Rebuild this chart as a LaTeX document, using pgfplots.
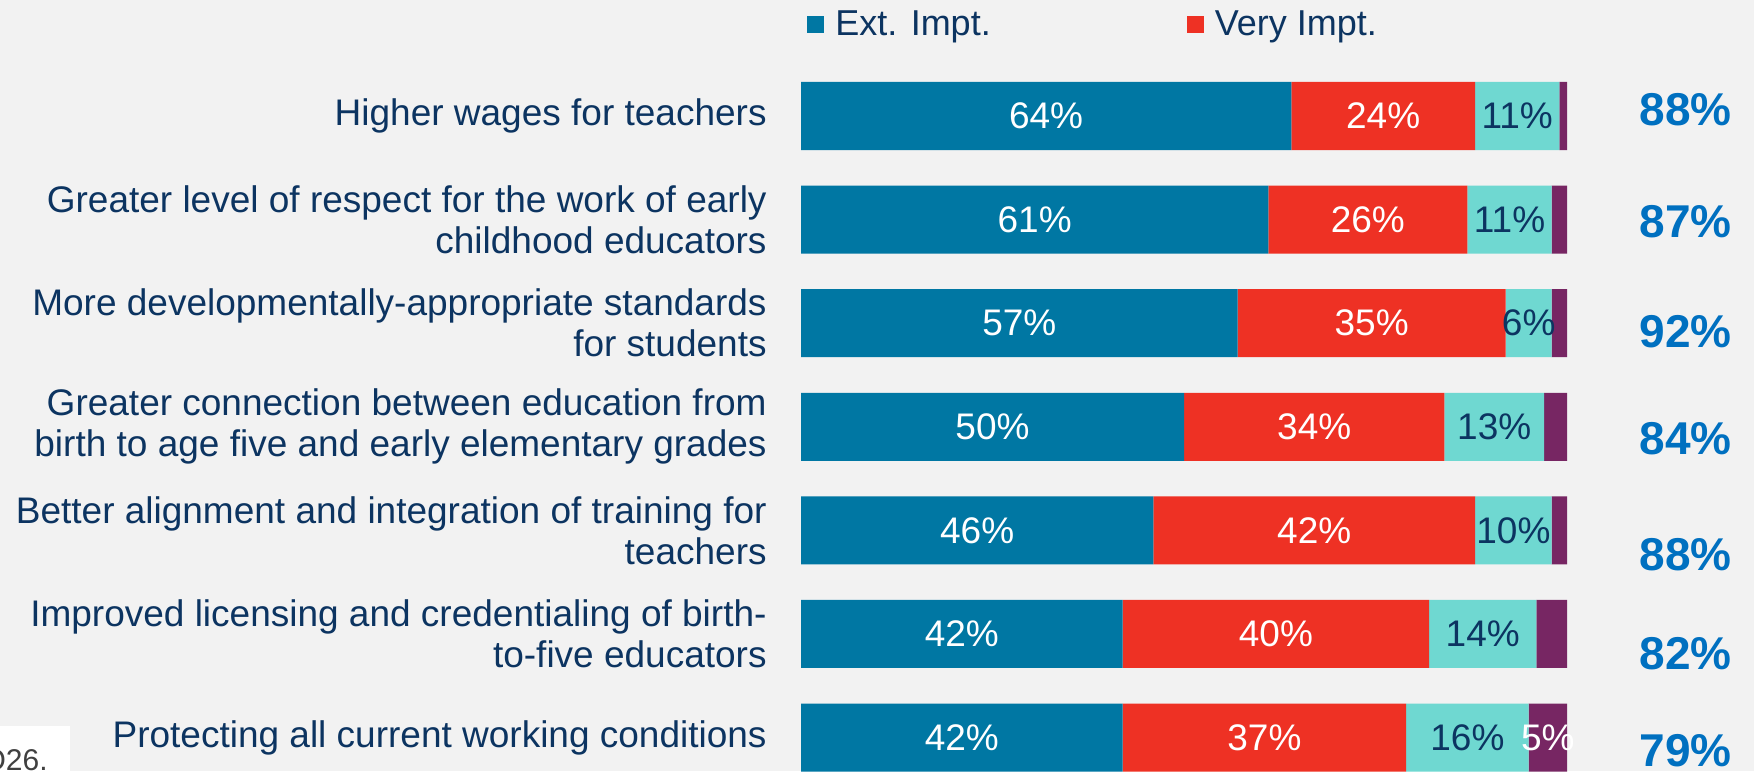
\documentclass[border=0pt]{standalone}
\usepackage{pgfplots}
\pgfplotsset{compat=1.18}
\usepackage{pgfplotstable}
\usepackage{fontspec}
\setmainfont{Liberation Sans}

\definecolor{bgc}{RGB}{242,242,242}
\definecolor{extc}{RGB}{0,119,163}
\definecolor{veryc}{RGB}{238,49,36}
\definecolor{somec}{RGB}{111,216,209}
\definecolor{notc}{RGB}{119,38,99}
\definecolor{navy}{RGB}{12,52,97}
\definecolor{totc}{RGB}{0,112,192}
\definecolor{qgray}{RGB}{64,64,64}

% share of answers per item (rows top to bottom)
\pgfplotstableread{
row ext very some not
1 64 24 11 1
2 61 26 11 2
3 57 35 6 2
4 50 34 13 3
5 46 42 10 2
6 42 40 14 4
7 42 37 16 5
}\ratings

% Ext. + Very Impt. totals, placed a little off the bar centres as in the original
\pgfplotstableread{
pos total
0.94 88
2.02 87
3.08 92
4.115 84
5.23 88
6.19 82
7.13 79
}\totals

\begin{document}
\begin{tikzpicture}
\useasboundingbox (0,0) rectangle (877pt,385.5pt);
\fill[bgc] (0,0) rectangle (877pt,385.5pt);
\begin{scope}
\clip (0,0) rectangle (877pt,385.5pt);
\pgfplotsset{
  frame/.style={
    at={(400.5pt,353.4pt)}, anchor=north west,
    scale only axis, width=383pt, height=362.6pt,
    xmin=0, xmax=100, ymin=0.5, ymax=7.5,
    y dir=reverse, clip=false,
    axis line style={draw=none}, tick style={draw=none},
    xtick=\empty,
    /pgf/number format/assume math mode=true,
  },
  % fill colour, label colour, column (labels already sit mid-segment)
  seg/.style n args={3}{fill=#1, draw=none,
    visualization depends on={\thisrow{#3} \as \segw},
    every node near coord/.append style={text=#2}},
}
\begin{axis}[
  frame,
  xbar stacked, bar width=34pt,
  ytick={1,...,7},
  yticklabels={
    Higher wages for teachers,
    {Greater level of respect for the work of early\\childhood educators},
    {More developmentally-appropriate standards\\for students},
    {Greater connection between education from\\birth to age five and early elementary grades},
    {Better alignment and integration of training for\\teachers},
    {Improved licensing and credentialing of birth-\\to-five educators},
    Protecting all current working conditions},
  yticklabel style={align=right, anchor=east, inner sep=0pt, xshift=-17pt,
    text=navy, font=\fontsize{18.5}{20.5}\selectfont},
  point meta=explicit,
  nodes near coords={\pgfmathprintnumber{\pgfplotspointmeta}\%},
  every node near coord/.append style={anchor=center, inner sep=0pt,
    font=\fontsize{18.5}{20}\selectfont},
  legend columns=2,
  legend style={at={(0,1)}, anchor=west, xshift=3pt, yshift=19.6pt,
    draw=none, fill=none, inner sep=0pt,
    font=\fontsize{18}{20}\selectfont, text=navy,
    nodes={inner sep=0pt, anchor=west},
    /tikz/every odd column/.append style={column sep=5.5pt},
    /tikz/every even column/.append style={column sep=98pt}},
  legend image code/.code={\fill[#1] (0pt,-4.25pt) rectangle (8.5pt,4.25pt);},
]
\addplot[seg={extc}{white}{ext}] table[x=ext, y=row, meta=ext] {\ratings};
\addplot[seg={veryc}{white}{very}] table[x=very, y=row, meta=very] {\ratings};
\addplot[seg={somec}{navy}{some}] table[x=some, y=row, meta=some] {\ratings};
\addplot[seg={notc}{white}{not},
  nodes near coords={\pgfmathparse{\segw>4.5 ? 1 : 0}\ifdim\pgfmathresult pt>0.5pt\pgfmathprintnumber{\pgfplotspointmeta}\%\fi}]
  table[x=not, y=row, meta=not] {\ratings};
\legend{Ext. Impt., Very Impt.}
\end{axis}
\begin{axis}[frame, ytick=\empty]
\addplot[only marks, mark=none, point meta=explicit,
  nodes near coords={\pgfmathprintnumber{\pgfplotspointmeta}\%},
  every node near coord/.append style={anchor=center, inner sep=0pt,
    text=totc, font=\bfseries\fontsize{23}{25}\selectfont}]
  table[x expr=115.5, y=pos, meta=total] {\totals};
\end{axis}
\fill[white] (0,0) rectangle (35pt,22.5pt);
\node[anchor=base east, inner sep=0pt, text=qgray,
  font=\fontsize{15}{16}\selectfont] at (24pt,0.5pt) {Q26.};
\end{scope}
\end{tikzpicture}
\end{document}
